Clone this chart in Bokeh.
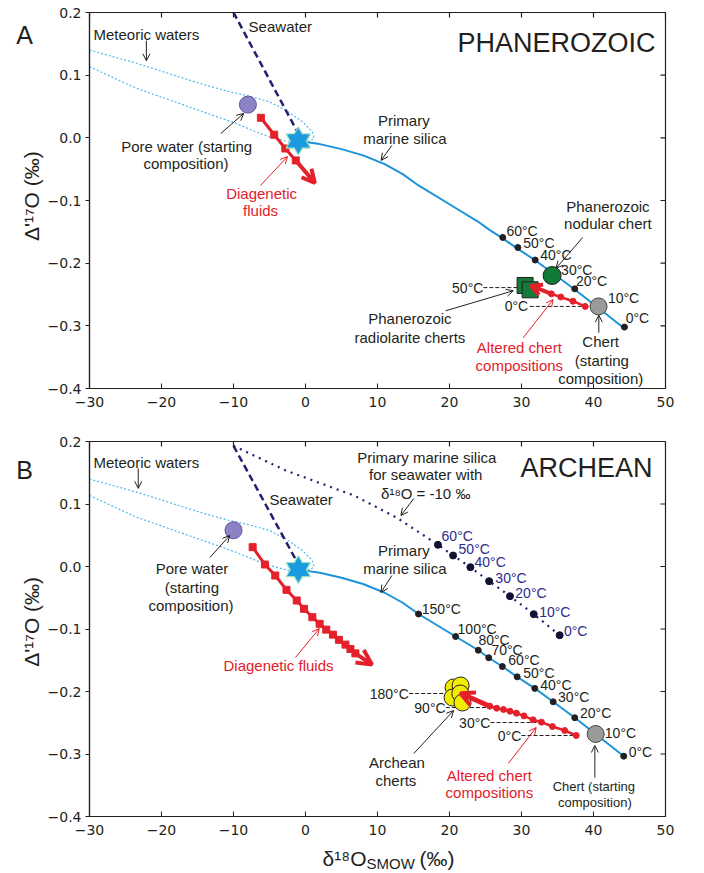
import math
from bokeh.plotting import figure
from bokeh.layouts import column, row
from bokeh.models import FixedTicker, CustomJSTickFormatter, Label, Arrow, OpenHead
from bokeh.embed import file_html
from bokeh.resources import INLINE

# ---------------- data ----------------
x_ticks = [-30, -20, -10, 0, 10, 20, 30, 40, 50]
y_ticks = [-0.4, -0.3, -0.2, -0.1, 0.0, 0.1, 0.2]

# meteoric water envelope (closed loop)
meteoric_d18 = [-30, -23.46, -14.25, -10.56, -7.8, -5.03, -2.74, -0.43, 0.95, 1.18, 0.5,
                -2.28, -5.03, -6.88, -9.65, -14.25, -23.46, -30]
meteoric_D17 = [0.140, 0.119, 0.0853, 0.0736, 0.0667, 0.0576, 0.0443, 0.0256, 0.0096, -0.0011, -0.0053,
                -0.0064, 0.0016, 0.0096, 0.0229, 0.0416, 0.0789, 0.1136]

seawater_star = (-1.0, -0.005)
seawater_A_d18 = [-10.0, -1.1]
seawater_A_D17 = [0.2, 0.009]
seawater_B_d18 = [-10.0, -1.3]
seawater_B_D17 = [0.193, 0.010]

# primary marine silica curve (seawater 0 permil)
silica_curve_d18 = [-1.0, 2.0, 5.0, 8.0, 11.0, 13.5, 15.7, 20.85, 24.0, 25.45, 27.34, 29.4, 31.85, 34.4, 37.4, 40.3, 44.2]
silica_curve_D17 = [-0.005, -0.010, -0.018, -0.028, -0.042, -0.058, -0.076, -0.112, -0.134, -0.146, -0.160, -0.1765, -0.195, -0.2165, -0.242, -0.268, -0.3035]
silica_T = [150, 100, 80, 70, 60, 50, 40, 30, 20, 10, 0]
silica_T_d18 = [15.7, 20.85, 24.0, 25.45, 27.34, 29.4, 31.85, 34.4, 37.4, 40.3, 44.2]
silica_T_D17 = [-0.076, -0.112, -0.134, -0.146, -0.160, -0.1765, -0.195, -0.2165, -0.242, -0.268, -0.3035]
silica_A_T = [60, 50, 40, 30, 20, 10, 0]
silica_A_d18 = [27.4, 29.5, 31.9, 34.2, 37.4, 40.7, 44.3]
silica_A_D17 = [-0.159, -0.175, -0.195, -0.214, -0.241, -0.269, -0.302]

# primary silica for seawater d18O = -10 permil (panel B)
silica10_curve_d18 = [-10.0, -2.74, 4.17, 6.75, 12.7, 18.4, 20.5, 22.9, 25.5, 28.4, 31.7, 35.3]
silica10_curve_D17 = [0.193, 0.1536, 0.1243, 0.1136, 0.078, 0.0347, 0.0176, -0.0011, -0.0235, -0.0475, -0.0763, -0.110]
silica10_T = [60, 50, 40, 30, 20, 10, 0]
silica10_T_d18 = [18.4, 20.5, 22.9, 25.5, 28.4, 31.7, 35.3]
silica10_T_D17 = [0.0347, 0.0176, -0.0011, -0.0235, -0.0475, -0.0763, -0.110]

# pore water
pore_A = (-8.0, 0.053)
pore_B = (-10.0, 0.058)

# diagenetic fluids
diag_A_d18 = [-6.2, -4.35, -2.8, -1.35]
diag_A_D17 = [0.032, 0.005, -0.017, -0.036]
diag_A_tip = (1.3, -0.072)
diag_B_d18 = [-7.34, -5.64, -4.2, -2.64, -1.22, -0.2, 0.95, 1.96, 2.88, 3.81, 4.64, 5.55, 6.24, 6.93]
diag_B_D17 = [0.031, 0.0032, -0.0144, -0.0373, -0.0544, -0.0677, -0.0811, -0.0917, -0.101, -0.109, -0.1173, -0.125, -0.132, -0.139]
diag_B_tip = (9.24, -0.157)

# altered chert compositions
alt_A_d18 = [38.85, 37.15, 35.45, 34.15]
alt_A_D17 = [-0.269, -0.2607, -0.254, -0.249]
alt_A_tip = (31.3, -0.236)
alt_B_d18 = [37.6, 36.0, 34.3, 32.77, 31.6, 30.34, 29.3, 28.4, 27.5, 26.55, 25.6]
alt_B_D17 = [-0.2704, -0.2624, -0.256, -0.249, -0.2453, -0.239, -0.2347, -0.2315, -0.2288, -0.2267, -0.2235]
alt_B_tip = (21.5, -0.2027)

# measured cherts
chert_start_A = (40.7, -0.269)
chert_start_B = (40.3, -0.268)
nodular_A = (34.25, -0.2197)
radiolarite_d18 = [30.5, 31.2]
radiolarite_D17 = [-0.2356, -0.2425]
archean_d18 = [20.57, 21.54, 20.43, 21.5, 21.8]
archean_D17 = [-0.1936, -0.1904, -0.2096, -0.2032, -0.2176]

# dashed reference lines (label temperature -> altered composition)
refA_xs = [[24.7, 29.8], [31.15, 39.0]]
refA_ys = [[-0.239, -0.239], [-0.269, -0.269]]
refB_xs = [[14.4, 20.3], [19.5, 26.5], [25.7, 32.7], [30.0, 37.6]]
refB_ys = [[-0.2032, -0.2032], [-0.2256, -0.2256], [-0.2496, -0.2496], [-0.2704, -0.2704]]

# ---------------- styles ----------------
TXT = "#231f20"
RED = "#e4202a"
BLUE = "#1a93d9"
STAR = "#1a9be0"
ENV = "#4fb8ec"
NAVY = "#232070"
NAVYTXT = "#2e2b8c"
SANS = "Liberation Sans"
STRIP_W = 44


def make_fig(height, top, bottom):
    p = figure(width=704 - STRIP_W, height=height, x_range=(-30, 50), y_range=(-0.4, 0.2),
               output_backend="svg", toolbar_location=None,
               min_border_left=86 - STRIP_W, min_border_right=39, min_border_top=top, min_border_bottom=bottom)
    p.xgrid.visible = False
    p.ygrid.visible = False
    p.outline_line_color = TXT
    p.outline_line_width = 1.2
    p.background_fill_color = "white"
    p.border_fill_color = "white"
    fx = CustomJSTickFormatter(code="return Math.abs(tick) < 1e-9 ? '0' : tick.toFixed(0).replace('-', '\\u2212');")
    fy = CustomJSTickFormatter(code="return Math.abs(tick) < 1e-9 ? '0.0' : tick.toFixed(1).replace('-', '\\u2212');")
    xa = p.xaxis[0]
    ya = p.yaxis[0]
    xa.ticker = FixedTicker(ticks=x_ticks, minor_ticks=[])
    ya.ticker = FixedTicker(ticks=y_ticks, minor_ticks=[])
    xa.formatter = fx
    ya.formatter = fy
    for ax in (xa, ya):
        ax.axis_line_color = TXT
        ax.axis_line_width = 1.2
        ax.major_tick_line_color = TXT
        ax.major_label_text_font = "DejaVu Sans"
        ax.major_label_text_font_size = "14px"
        ax.major_label_text_color = TXT
    xa.major_tick_in = 5
    xa.major_tick_out = 0
    xa.major_label_standoff = 8
    ya.major_tick_in = 0
    ya.major_tick_out = 4
    ya.major_label_standoff = 4
    # inward ticks on the top and right frame edges (half of each dash is clipped by the frame)
    p.scatter(x_ticks, [0.2] * len(x_ticks), marker="dash", angle=math.pi / 2, size=10,
              line_color=TXT, line_width=1.2)
    p.scatter([50] * len(y_ticks), y_ticks, marker="dash", size=10, line_color=TXT, line_width=1.2)
    return p


def strip(width, height):
    s = figure(width=width, height=height, x_range=(0, width), y_range=(0, height),
               x_axis_type=None, y_axis_type=None, output_backend="svg", toolbar_location=None,
               min_border=0)
    s.outline_line_color = None
    s.grid.visible = False
    s.background_fill_color = "white"
    s.border_fill_color = "white"
    return s


def lab(p, x, y, text, size=15, color=TXT, align="left", baseline="middle", font=SANS, angle=0.0):
    p.add_layout(Label(x=x, y=y, text=text, text_font_size=f"{size}px", text_color=color,
                       text_align=align, text_baseline=baseline, text_font=font, angle=angle))


def arr(p, x0, y0, x1, y1, color=TXT, lw=1.0, hs=7, hlw=1.0):
    p.add_layout(Arrow(end=OpenHead(size=hs, line_color=color, line_width=hlw),
                       x_start=x0, y_start=y0, x_end=x1, y_end=y1,
                       line_color=color, line_width=lw))


def star(p):
    x, y = [seawater_star[0]], [seawater_star[1]]
    for m in ("triangle", "inverted_triangle"):
        p.scatter(x, y, marker=m, size=24, fill_color=STAR, line_color="#9fe0bc", line_width=1.5)
    for m in ("triangle", "inverted_triangle"):
        p.scatter(x, y, marker=m, size=22, fill_color=STAR, line_color=None)


def common(p, pore, sw_x, sw_y):
    p.line(meteoric_d18, meteoric_D17, line_color=ENV, line_width=1.2, line_dash="2 2")
    p.line(sw_x, sw_y, line_color=NAVY, line_width=2.5, line_dash="7 4")
    p.line(silica_curve_d18, silica_curve_D17, line_color=BLUE, line_width=2)
    p.scatter([pore[0]], [pore[1]], marker="circle", size=17, fill_color="#8c83c4",
              line_color="#5d54a4", line_width=1)


# ================= Panel A =================
pA = make_fig(430, 12, 42)
common(pA, pore_A, seawater_A_d18, seawater_A_D17)
pA.scatter(silica_A_d18, silica_A_D17, marker="circle", size=6, fill_color=TXT, line_color=TXT)
pA.multi_line(refA_xs, refA_ys, line_color=TXT, line_width=1, line_dash="4 2")
pA.line(diag_A_d18, diag_A_D17, line_color=RED, line_width=3)
pA.scatter(diag_A_d18, diag_A_D17, marker="square", size=7, fill_color=RED, line_color=RED)
arr(pA, diag_A_d18[-1], diag_A_D17[-1], diag_A_tip[0], diag_A_tip[1], RED, lw=4, hs=13, hlw=4)
pA.line(alt_A_d18, alt_A_D17, line_color=RED, line_width=2.5)
pA.scatter(alt_A_d18, alt_A_D17, marker="circle", size=6, fill_color=RED, line_color=RED)
arr(pA, alt_A_d18[-1], alt_A_D17[-1], alt_A_tip[0], alt_A_tip[1], RED, lw=4, hs=11, hlw=4)
pA.scatter(radiolarite_d18, radiolarite_D17, marker="square", size=16, fill_color="#137a3a",
           line_color=TXT, line_width=1)
pA.scatter([nodular_A[0]], [nodular_A[1]], marker="circle", size=18, fill_color="#0f7a36",
           line_color=TXT, line_width=1)
pA.scatter([chert_start_A[0]], [chert_start_A[1]], marker="circle", size=17, fill_color="#9a9a9a",
           line_color="#444444", line_width=1)
star(pA)

A_temp_pos = [(27.9, -0.148), (30.24, -0.1686), (32.6, -0.1877), (35.5, -0.2117),
              (37.56, -0.229), (42.0, -0.2548), (44.47, -0.288)]
for t, (x, y) in zip(silica_A_T, A_temp_pos):
    lab(pA, x, y, f"{t}°C", size=14)

A_texts = [
    ("Seawater", -7.9, 0.178, "left", TXT, 15),
    ("Meteoric waters", -29.45, 0.165, "left", TXT, 15),
    ("Pore water (starting", -16.5, -0.014, "center", TXT, 15),
    ("composition)", -16.6, -0.041, "center", TXT, 15),
    ("Diagenetic", -6.1, -0.089, "center", RED, 15),
    ("fluids", -6.24, -0.116, "center", RED, 15),
    ("Primary", 13.66, 0.028, "center", TXT, 15),
    ("marine silica", 13.8, -0.001, "center", TXT, 15),
    ("PHANEROZOIC", 48.6, 0.152, "right", TXT, 27),
    ("Phanerozoic", 42.0, -0.110, "center", TXT, 15),
    ("nodular chert", 42.0, -0.137, "center", TXT, 15),
    ("Phanerozoic", 14.5, -0.288, "center", TXT, 15),
    ("radiolarite cherts", 14.5, -0.319, "center", TXT, 15),
    ("Altered chert", 29.7, -0.335, "center", RED, 15),
    ("compositions", 29.7, -0.363, "center", RED, 15),
    ("Chert", 41.0, -0.325, "center", TXT, 15),
    ("(starting", 41.16, -0.355, "center", TXT, 15),
    ("composition)", 41.0, -0.384, "center", TXT, 15),
    ("50°C", 24.7, -0.239, "right", TXT, 14),
    ("0°C", 30.93, -0.269, "right", TXT, 14),
]
for t, x, y, a, c, s in A_texts:
    lab(pA, x, y, t, size=s, color=c, align=a)

arr(pA, -22.1, 0.155, -22.1, 0.123)
arr(pA, -11.75, 0.007, -8.58, 0.039)
arr(pA, -6.24, -0.076, -2.5, -0.030, RED)
arr(pA, 12.0, -0.012, 10.5, -0.036)
arr(pA, 38.5, -0.159, 34.8, -0.208)
arr(pA, 19.46, -0.276, 28.86, -0.244)
arr(pA, 30.24, -0.319, 34.4, -0.258, RED)
arr(pA, 40.74, -0.311, 40.74, -0.283)

# ================= Panel B =================
pB = make_fig(416, 11, 30)
common(pB, pore_B, seawater_B_d18, seawater_B_D17)
pB.line(silica10_curve_d18, silica10_curve_D17, line_color=NAVY, line_width=2.2, line_dash="2 5")
pB.scatter(silica10_T_d18, silica10_T_D17, marker="circle", size=7, fill_color="#111133", line_color="#111133")
pB.scatter(silica_T_d18, silica_T_D17, marker="circle", size=6, fill_color=TXT, line_color=TXT)
pB.multi_line(refB_xs, refB_ys, line_color=TXT, line_width=1, line_dash="4 2")
pB.line(diag_B_d18, diag_B_D17, line_color=RED, line_width=3)
pB.scatter(diag_B_d18, diag_B_D17, marker="square", size=7, fill_color=RED, line_color=RED)
arr(pB, diag_B_d18[-1], diag_B_D17[-1], diag_B_tip[0], diag_B_tip[1], RED, lw=4, hs=15, hlw=4)
pB.line(alt_B_d18, alt_B_D17, line_color=RED, line_width=2.5)
pB.scatter(alt_B_d18, alt_B_D17, marker="circle", size=6, fill_color=RED, line_color=RED)
arr(pB, alt_B_d18[-1], alt_B_D17[-1], alt_B_tip[0], alt_B_tip[1], RED, lw=5, hs=14, hlw=4)
pB.scatter(archean_d18, archean_D17, marker="circle", size=17, fill_color="#f2ec00",
           line_color=TXT, line_width=1)
pB.scatter([chert_start_B[0]], [chert_start_B[1]], marker="circle", size=17, fill_color="#9a9a9a",
           line_color="#444444", line_width=1)
star(pB)

B10_temp_pos = [(18.9, 0.0496), (21.26, 0.0288), (23.47, 0.008), (26.37, -0.0176),
                (29.14, -0.0416), (32.45, -0.072), (35.9, -0.1024)]
for t, (x, y) in zip(silica10_T, B10_temp_pos):
    lab(pB, x, y, f"{t}°C", size=14, color=NAVYTXT)
B_temp_pos = [(16.15, -0.0672), (21.12, -0.0992), (24.02, -0.1168), (25.82, -0.1328),
              (28.17, -0.1488), (30.24, -0.1696), (32.6, -0.1888), (35.08, -0.208),
              (38.12, -0.2336), (41.57, -0.2656), (44.89, -0.296)]
for t, (x, y) in zip(silica_T, B_temp_pos):
    lab(pB, x, y, f"{t}°C", size=14)

B_texts = [
    ("Meteoric waters", -29.45, 0.1664, "left", TXT, 15),
    ("Seawater", -5.0, 0.107, "left", TXT, 15),
    ("Pore water", -15.77, -0.003, "center", TXT, 15),
    ("(starting", -15.77, -0.0336, "center", TXT, 15),
    ("composition)", -15.9, -0.0624, "center", TXT, 15),
    ("Diagenetic fluids", -3.75, -0.1584, "center", RED, 15),
    ("Primary marine silica", 16.84, 0.1744, "center", TXT, 15),
    ("for seawater with", 16.7, 0.147, "center", TXT, 15),
    ("δ¹⁸O = -10 ‰", 16.7, 0.1168, "center", TXT, 15),
    ("ARCHEAN", 48.2, 0.1584, "right", TXT, 27),
    ("Primary", 13.66, 0.0256, "center", TXT, 15),
    ("marine silica", 13.8, -0.0032, "center", TXT, 15),
    ("180°C", 14.35, -0.2032, "right", TXT, 14),
    ("90°C", 19.46, -0.2256, "right", TXT, 14),
    ("30°C", 25.68, -0.2496, "right", TXT, 14),
    ("0°C", 29.97, -0.2704, "right", TXT, 14),
    ("Archean", 12.7, -0.3136, "center", TXT, 15),
    ("cherts", 12.56, -0.3424, "center", TXT, 15),
    ("Altered chert", 25.54, -0.3344, "center", RED, 15),
    ("compositions", 25.54, -0.3616, "center", RED, 15),
    ("Chert (starting", 40.05, -0.352, "center", TXT, 13),
    ("composition)", 40.19, -0.3776, "center", TXT, 13),
]
for t, x, y, a, c, s in B_texts:
    lab(pB, x, y, t, size=s, color=c, align=a)

arr(pB, -23.23, 0.157, -23.23, 0.125)
arr(pB, -13.28, 0.0144, -10.52, 0.0496)
arr(pB, -1.4, -0.1456, 1.92, -0.0992, RED)
arr(pB, 15.04, 0.1088, 13.25, 0.0816)
arr(pB, 12.0, -0.0144, 10.48, -0.0416)
arr(pB, 15.04, -0.2992, 20.57, -0.2304)
arr(pB, 28.17, -0.3152, 32.04, -0.2576, RED)
arr(pB, 40.19, -0.3376, 40.19, -0.2864)

# ================= side strips (panel letters and axis titles) =================
sA = strip(STRIP_W, 430)
lab(sA, 24, 404, "A", size=25, align="center")
lab(sA, 31, 220, "Δ'¹⁷O (‰)", size=21, align="center", angle=math.pi / 2)

sB = strip(STRIP_W, 416)
lab(sB, 24, 384, "B", size=25, align="center")
lab(sB, 31, 216, "Δ'¹⁷O (‰)", size=21, align="center", angle=math.pi / 2)

sX = strip(704, 27)
lab(sX, 366, 15, "δ¹⁸O", size=21, align="right")
lab(sX, 366, 10, "SMOW", size=15, align="left")
lab(sX, 419, 15, "(‰)", size=21, align="left")

layout = column(row(sA, pA, spacing=0), row(sB, pB, spacing=0), sX, spacing=0)
open("out.html", "w").write(file_html(layout, INLINE))
